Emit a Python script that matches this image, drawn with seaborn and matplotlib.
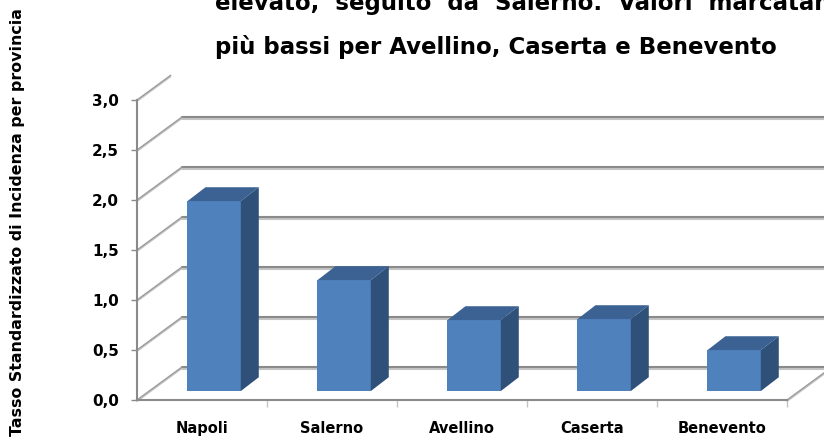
import matplotlib
matplotlib.use('Agg')

import numpy as np
import pandas as pd
import matplotlib.pyplot as plt
import matplotlib.patheffects as pe
from matplotlib.patches import Polygon
import seaborn as sns

# dati
province = ["Napoli", "Salerno", "Avellino", "Caserta", "Benevento"]
tasso = [1.90, 1.11, 0.71, 0.72, 0.41]
y_ticks = [0.0, 0.5, 1.0, 1.5, 2.0, 2.5, 3.0]
y_tick_labels = ["0,0", "0,5", "1,0", "1,5", "2,0", "2,5", "3,0"]
titolo = ["elevato,  seguito  da  Salerno.  Valori  marcatamente",
          "più bassi per Avellino, Caserta e Benevento"]
etichetta_y = "Tasso Standardizzato di Incidenza per provincia"

FRONT = "#4F81BD"
SIDE = "#2F5179"
TOP = "#3B6293"
GRID = "#8A8A8A"
SHADOW = "#C4C4C4"

sns.set_theme(style="white")
plt.rcParams['font.family'] = ['DejaVu Sans']
plt.rcParams['text.color'] = 'black'
plt.rcParams['xtick.color'] = 'black'
plt.rcParams['ytick.color'] = 'black'

fig = plt.figure(figsize=(8.24, 4.48), dpi=100)
ax = fig.add_axes([137 / 824, 48 / 448, 650 / 824, 300 / 448])

df = pd.DataFrame({"provincia": province, "tasso": tasso})
sns.barplot(data=df, x="provincia", y="tasso", color=FRONT, saturation=1,
            width=0.41, ax=ax, zorder=3, linewidth=0)

# profondità "3D" (parete di fondo e barre)
wdx, wdy = 0.346, 0.33
ox, oy = 0.27 * wdx, 0.27 * wdy
bdx, bdy = 0.40 * wdx, 0.42 * wdy

for p in list(ax.patches):
    x0 = p.get_x() + ox
    w = p.get_width()
    h = p.get_height()
    p.set_x(x0)
    p.set_y(oy)
    top = Polygon([(x0, oy + h), (x0 + w, oy + h),
                   (x0 + w + bdx, oy + h + bdy), (x0 + bdx, oy + h + bdy)],
                  closed=True, facecolor=TOP, edgecolor="none", zorder=3)
    side = Polygon([(x0 + w, oy), (x0 + w + bdx, oy + bdy),
                    (x0 + w + bdx, oy + h + bdy), (x0 + w, oy + h)],
                   closed=True, facecolor=SIDE, edgecolor="none", zorder=3)
    ax.add_patch(top)
    ax.add_patch(side)

shadow = [pe.SimpleLineShadow(offset=(0, -1.5), shadow_color=SHADOW, alpha=1), pe.Normal()]
shadow_thin = [pe.SimpleLineShadow(offset=(0, -1), shadow_color=SHADOW, alpha=1), pe.Normal()]

# griglia sulla parete di fondo
for v in y_ticks[:-1]:
    ax.plot([-0.5 + wdx, 5.0], [v + wdy, v + wdy], color=GRID, lw=1.5,
            clip_on=False, zorder=1, path_effects=shadow)
# diagonali della parete laterale
for v in y_ticks:
    frac = 0.75 if v == y_ticks[-1] else 1.0
    ax.plot([-0.5, -0.5 + wdx * frac], [v, v + wdy * frac], color="#9A9A9A", lw=1.0,
            clip_on=False, zorder=1, path_effects=shadow_thin)
ax.plot([4.5, 4.5 + wdx], [0, wdy], color="#9A9A9A", lw=1.0, clip_on=False, zorder=1,
        path_effects=shadow_thin)

ax.set_xlim(-0.5, 4.5)
ax.set_ylim(0, 3)
ax.set_yticks(y_ticks)
ax.set_yticklabels(y_tick_labels, fontsize=11, fontweight='bold')
ax.set_xticks(range(len(province)))
ax.set_xticklabels(province, fontsize=10.5, fontweight='bold')
ax.set_xticks(np.arange(0.5, len(province), 1.0), minor=True)
ax.set_xlabel("")
ax.set_ylabel("")

for s in ["top", "right"]:
    ax.spines[s].set_visible(False)
for s in ["left", "bottom"]:
    ax.spines[s].set_color(GRID)
    ax.spines[s].set_linewidth(1.5)
    ax.spines[s].set_zorder(4)

ax.tick_params(axis='y', which='major', length=4, width=1, color=GRID, pad=9, left=True)
ax.tick_params(axis='x', which='major', length=0, pad=15)
ax.tick_params(axis='x', which='minor', length=5, width=1, color=SHADOW, bottom=True)
ax.patch.set_alpha(0)

fig.text(0.021, 0.505, etichetta_y, rotation=90, ha='center', va='center',
         fontsize=11.4, fontweight='bold')
fig.text(215 / 824, 0.992, titolo[0], ha='left', va='center', fontsize=16.5, fontweight='bold')
fig.text(215 / 824, 0.895, titolo[1], ha='left', va='center', fontsize=16.5, fontweight='bold')

plt.savefig("out.png", dpi=100)
plt.close()
